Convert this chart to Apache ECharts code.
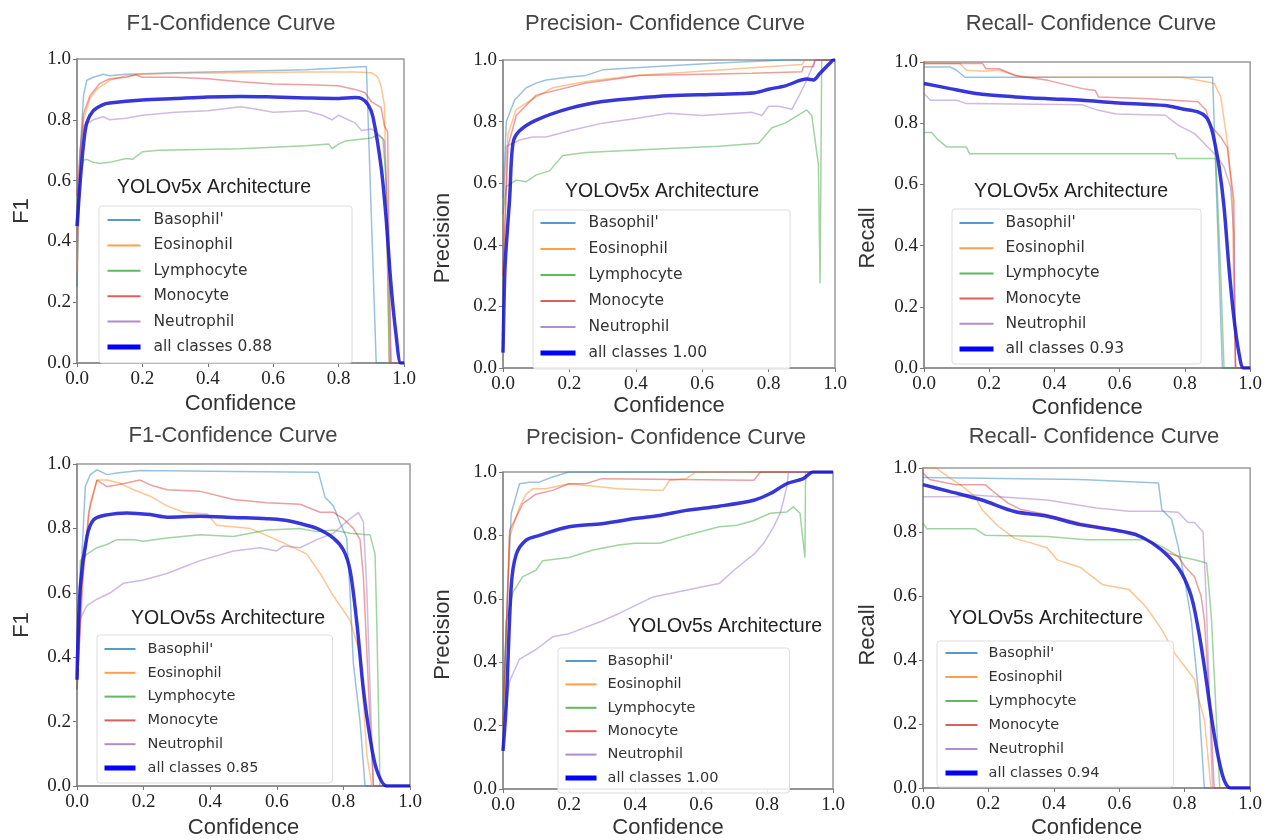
<!DOCTYPE html>
<html>
<head>
<meta charset="utf-8">
<script src="https://cdn.jsdelivr.net/npm/echarts@6/dist/echarts.min.js"></script>
<style>
html,body{margin:0;padding:0;background:#fff;}
#chart{width:1265px;height:840px;}
</style>
</head>
<body>
<div id="chart"></div>
<script>
// ---------------- data ----------------
const CLASS_NAMES = ["Basophil'", 'Eosinophil', 'Lymphocyte', 'Monocyte', 'Neutrophil'];
const ALL_LABELS = ['all classes 0.88', 'all classes 1.00', 'all classes 0.93', 'all classes 0.85', 'all classes 1.00', 'all classes 0.94'];
const TITLES = ['F1-Confidence Curve', 'Precision- Confidence Curve', 'Recall- Confidence Curve', 'F1-Confidence Curve', 'Precision- Confidence Curve', 'Recall- Confidence Curve'];
const Y_NAMES = ['F1', 'Precision', 'Recall', 'F1', 'Precision', 'Recall'];
const X_NAME = 'Confidence';
const ARCH = ['YOLOv5x Architecture', 'YOLOv5x Architecture', 'YOLOv5x Architecture', 'YOLOv5s Architecture', 'YOLOv5s Architecture', 'YOLOv5s Architecture'];
const TICKS = [0, 0.2, 0.4, 0.6, 0.8, 1.0];

// Panel 1: F1 - YOLOv5x
const F1X_BASO = [[0,0.25],[0.01,0.7],[0.02,0.88],[0.03,0.93],[0.05,0.94],[0.08,0.95],[0.1,0.945],[0.15,0.95],[0.3,0.955],[0.5,0.96],[0.7,0.965],[0.885,0.975],[0.915,0],[1,0]];
const F1X_EOS = [[0,0.3],[0.01,0.65],[0.02,0.8],[0.04,0.87],[0.06,0.9],[0.1,0.93],[0.15,0.945],[0.2,0.95],[0.3,0.953],[0.5,0.955],[0.7,0.957],[0.85,0.957],[0.9,0.955],[0.92,0.94],[0.93,0.91],[0.94,0.85],[0.945,0.6],[0.955,0],[1,0]];
const F1X_LYM = [[0,0.45],[0.01,0.62],[0.02,0.667],[0.03,0.67],[0.05,0.66],[0.07,0.656],[0.1,0.66],[0.15,0.673],[0.17,0.67],[0.2,0.695],[0.25,0.7],[0.5,0.705],[0.7,0.715],[0.77,0.72],[0.78,0.705],[0.8,0.72],[0.82,0.73],[0.9,0.74],[0.92,0.75],[0.935,0.74],[0.945,0.6],[0.955,0],[1,0]];
const F1X_MONO = [[0,0.55],[0.01,0.7],[0.02,0.82],[0.04,0.88],[0.07,0.92],[0.1,0.935],[0.15,0.94],[0.18,0.948],[0.2,0.94],[0.3,0.94],[0.4,0.935],[0.5,0.925],[0.6,0.918],[0.7,0.915],[0.8,0.912],[0.85,0.9],[0.88,0.89],[0.9,0.86],[0.93,0.84],[0.94,0.78],[0.95,0.76],[0.955,0.3],[0.96,0],[1,0]];
const F1X_NEU = [[0,0.4],[0.01,0.7],[0.02,0.78],[0.05,0.8],[0.08,0.81],[0.1,0.8],[0.15,0.805],[0.2,0.815],[0.3,0.825],[0.4,0.83],[0.5,0.843],[0.55,0.835],[0.6,0.825],[0.7,0.83],[0.75,0.815],[0.78,0.8],[0.8,0.815],[0.85,0.79],[0.87,0.765],[0.9,0.77],[0.92,0.755],[0.94,0.73],[0.95,0.5],[0.96,0],[1,0]];
const F1X_ALL = [[0,0.45],[0.01,0.6],[0.02,0.72],[0.03,0.79],[0.05,0.83],[0.08,0.85],[0.1,0.855],[0.2,0.865],[0.3,0.87],[0.4,0.875],[0.5,0.877],[0.6,0.875],[0.7,0.872],[0.8,0.87],[0.85,0.873],[0.87,0.87],[0.89,0.85],[0.905,0.81],[0.93,0.645],[0.945,0.48],[0.96,0.26],[0.975,0.1],[0.99,0],[1,0]];

// Panel 2: Precision - YOLOv5x
const PRX_BASO = [[0,0.55],[0.01,0.8],[0.035,0.87],[0.07,0.91],[0.1,0.925],[0.13,0.935],[0.2,0.945],[0.25,0.95],[0.3,0.968],[0.45,0.978],[0.65,0.99],[0.85,1.0],[1,1.0]];
const PRX_EOS = [[0,0.3],[0.015,0.76],[0.04,0.84],[0.1,0.88],[0.15,0.91],[0.25,0.93],[0.4,0.95],[0.55,0.96],[0.75,0.975],[0.9,0.985],[0.91,1.0],[1,1.0]];
const PRX_LYM = [[0,0.5],[0.01,0.59],[0.04,0.61],[0.07,0.605],[0.1,0.627],[0.14,0.64],[0.18,0.69],[0.25,0.7],[0.45,0.71],[0.65,0.72],[0.77,0.73],[0.81,0.78],[0.85,0.795],[0.915,0.838],[0.93,0.82],[0.94,0.74],[0.95,0.66],[0.955,0.275],[0.96,1.0],[1,1.0]];
const PRX_MONO = [[0,0.3],[0.015,0.72],[0.04,0.82],[0.1,0.886],[0.25,0.925],[0.35,0.94],[0.41,0.95],[0.75,0.957],[0.9,0.962],[0.905,0.978],[0.935,0.978],[0.94,1.0],[1,1.0]];
const PRX_NEU = [[0,0.5],[0.01,0.72],[0.05,0.74],[0.09,0.75],[0.13,0.75],[0.2,0.77],[0.3,0.795],[0.4,0.81],[0.5,0.827],[0.6,0.82],[0.75,0.83],[0.78,0.82],[0.8,0.85],[0.83,0.85],[0.87,0.84],[0.89,0.88],[0.895,0.885],[0.915,0.935],[0.94,1.0],[1,1.0]];
const PRX_ALL = [[0,0.05],[0.005,0.3],[0.01,0.4],[0.02,0.55],[0.03,0.73],[0.05,0.77],[0.1,0.805],[0.2,0.843],[0.3,0.865],[0.4,0.876],[0.5,0.884],[0.65,0.889],[0.76,0.894],[0.8,0.905],[0.85,0.916],[0.915,0.938],[0.935,0.935],[0.955,0.957],[0.985,0.99],[0.995,1.0],[1,1.0]];

// Panel 3: Recall - YOLOv5x
const REX_BASO = [[0,0.984],[0.08,0.984],[0.1,0.973],[0.125,0.95],[0.5,0.95],[0.885,0.95],[0.915,0],[1,0]];
const REX_EOS = [[0,0.995],[0.11,0.995],[0.13,0.973],[0.18,0.97],[0.23,0.973],[0.3,0.95],[0.79,0.95],[0.87,0.935],[0.89,0.93],[0.91,0.886],[0.93,0.74],[0.946,0.55],[0.95,0.22],[0.956,0],[1,0]];
const REX_LYM = [[0,0.77],[0.023,0.77],[0.04,0.749],[0.07,0.722],[0.13,0.722],[0.14,0.7],[0.77,0.7],[0.775,0.685],[0.895,0.685],[0.91,0.3],[0.92,0],[1,0]];
const REX_MONO = [[0,0.995],[0.18,0.995],[0.19,0.978],[0.23,0.978],[0.28,0.956],[0.38,0.94],[0.485,0.913],[0.525,0.907],[0.535,0.886],[0.69,0.88],[0.84,0.87],[0.865,0.842],[0.88,0.79],[0.91,0.755],[0.93,0.72],[0.94,0.635],[0.95,0.55],[0.955,0],[1,0]];
const REX_NEU = [[0,0.897],[0.02,0.875],[0.1,0.875],[0.13,0.864],[0.485,0.86],[0.535,0.842],[0.59,0.83],[0.74,0.826],[0.78,0.793],[0.83,0.766],[0.87,0.722],[0.9,0.69],[0.92,0.657],[0.94,0.59],[0.95,0.44],[0.955,0],[1,0]];
const REX_ALL = [[0,0.93],[0.08,0.913],[0.16,0.897],[0.28,0.886],[0.38,0.88],[0.485,0.875],[0.585,0.867],[0.74,0.858],[0.79,0.847],[0.84,0.837],[0.865,0.82],[0.88,0.787],[0.89,0.744],[0.905,0.657],[0.92,0.526],[0.935,0.33],[0.95,0.167],[0.966,0.047],[0.98,0],[1,0]];

// Panel 4: F1 - YOLOv5s
const F1S_BASO = [[0,0.3],[0.01,0.62],[0.025,0.93],[0.04,0.967],[0.06,0.982],[0.09,0.967],[0.12,0.972],[0.19,0.98],[0.47,0.977],[0.725,0.974],[0.745,0.897],[0.77,0.87],[0.79,0.817],[0.81,0.77],[0.82,0.6],[0.83,0.38],[0.85,0.2],[0.865,0],[1,0]];
const F1S_EOS = [[0,0.3],[0.02,0.67],[0.04,0.88],[0.06,0.95],[0.09,0.95],[0.13,0.94],[0.17,0.92],[0.22,0.9],[0.27,0.87],[0.32,0.85],[0.39,0.845],[0.42,0.81],[0.52,0.8],[0.62,0.755],[0.69,0.72],[0.73,0.66],[0.77,0.59],[0.82,0.515],[0.85,0.41],[0.86,0.26],[0.87,0.1],[0.885,0],[1,0]];
const F1S_LYM = [[0,0.3],[0.01,0.7],[0.03,0.72],[0.06,0.74],[0.09,0.75],[0.12,0.765],[0.17,0.765],[0.2,0.76],[0.27,0.77],[0.37,0.78],[0.47,0.775],[0.57,0.795],[0.67,0.8],[0.72,0.79],[0.77,0.795],[0.82,0.785],[0.87,0.78],[0.88,0.78],[0.895,0.72],[0.9,0.52],[0.91,0],[1,0]];
const F1S_MONO = [[0,0.3],[0.015,0.62],[0.035,0.85],[0.06,0.95],[0.09,0.93],[0.12,0.935],[0.19,0.95],[0.22,0.935],[0.27,0.92],[0.37,0.915],[0.47,0.89],[0.57,0.88],[0.67,0.875],[0.73,0.85],[0.77,0.85],[0.8,0.83],[0.83,0.8],[0.85,0.765],[0.86,0.65],[0.88,0.2],[0.89,0],[1,0]];
const F1S_NEU = [[0,0.3],[0.01,0.52],[0.03,0.56],[0.06,0.58],[0.1,0.6],[0.14,0.63],[0.2,0.64],[0.27,0.66],[0.32,0.68],[0.37,0.7],[0.47,0.73],[0.55,0.74],[0.6,0.73],[0.62,0.745],[0.67,0.74],[0.72,0.765],[0.77,0.785],[0.82,0.83],[0.845,0.85],[0.86,0.82],[0.87,0.62],[0.88,0.31],[0.89,0],[1,0]];
const F1S_ALL = [[0,0.33],[0.01,0.62],[0.03,0.775],[0.05,0.827],[0.09,0.842],[0.15,0.848],[0.22,0.843],[0.27,0.835],[0.37,0.838],[0.47,0.834],[0.57,0.83],[0.62,0.826],[0.67,0.815],[0.72,0.8],[0.77,0.77],[0.8,0.733],[0.82,0.67],[0.84,0.51],[0.86,0.3],[0.88,0.15],[0.9,0.05],[0.93,0],[1,0]];

// Panel 5: Precision - YOLOv5s
const PRS_BASO = [[0,0.25],[0.015,0.64],[0.025,0.87],[0.05,0.963],[0.08,0.968],[0.11,0.968],[0.15,0.984],[0.2,1.0],[1,1.0]];
const PRS_EOS = [[0,0.2],[0.02,0.795],[0.05,0.89],[0.07,0.93],[0.09,0.947],[0.13,0.947],[0.2,0.963],[0.35,0.947],[0.485,0.942],[0.505,0.974],[0.555,0.979],[0.585,1.0],[1,1.0]];
const PRS_LYM = [[0,0.2],[0.01,0.53],[0.03,0.62],[0.06,0.67],[0.1,0.69],[0.12,0.72],[0.2,0.73],[0.27,0.753],[0.35,0.77],[0.4,0.775],[0.475,0.775],[0.555,0.8],[0.655,0.827],[0.71,0.832],[0.76,0.847],[0.81,0.87],[0.86,0.874],[0.88,0.89],[0.9,0.87],[0.915,0.73],[0.917,1.0],[1,1.0]];
const PRS_MONO = [[0,0.2],[0.02,0.816],[0.06,0.9],[0.1,0.93],[0.15,0.942],[0.2,0.963],[0.25,0.963],[0.3,0.979],[0.76,0.974],[0.78,1.0],[1,1.0]];
const PRS_NEU = [[0,0.2],[0.02,0.34],[0.05,0.41],[0.1,0.44],[0.15,0.48],[0.2,0.49],[0.25,0.51],[0.3,0.53],[0.35,0.553],[0.455,0.606],[0.555,0.627],[0.605,0.638],[0.655,0.648],[0.7,0.69],[0.735,0.72],[0.76,0.74],[0.79,0.775],[0.82,0.827],[0.84,0.87],[0.85,0.91],[0.86,0.953],[0.865,1.0],[1,1.0]];
const PRS_ALL = [[0,0.12],[0.01,0.27],[0.025,0.64],[0.04,0.74],[0.07,0.785],[0.11,0.8],[0.2,0.827],[0.3,0.837],[0.4,0.853],[0.475,0.863],[0.555,0.879],[0.655,0.892],[0.76,0.911],[0.81,0.932],[0.86,0.963],[0.91,0.979],[0.94,1.0],[1,1.0]];

// Panel 6: Recall - YOLOv5s
const RES_BASO = [[0,0.97],[0.48,0.964],[0.72,0.953],[0.73,0.87],[0.76,0.84],[0.78,0.755],[0.8,0.65],[0.82,0.526],[0.84,0.32],[0.86,0],[1,0]];
const RES_EOS = [[0,1.0],[0.04,1.0],[0.08,0.97],[0.12,0.943],[0.16,0.91],[0.18,0.87],[0.23,0.818],[0.28,0.78],[0.33,0.766],[0.38,0.75],[0.41,0.713],[0.48,0.69],[0.55,0.635],[0.63,0.62],[0.68,0.568],[0.73,0.495],[0.77,0.42],[0.83,0.34],[0.84,0.287],[0.86,0.214],[0.87,0.11],[0.88,0],[1,0]];
const RES_LYM = [[0,0.828],[0.012,0.81],[0.16,0.81],[0.19,0.79],[0.38,0.786],[0.5,0.776],[0.68,0.776],[0.73,0.755],[0.78,0.724],[0.83,0.713],[0.867,0.703],[0.872,0.65],[0.882,0.526],[0.892,0.318],[0.907,0],[1,0]];
const RES_MONO = [[0,0.984],[0.02,0.964],[0.1,0.948],[0.19,0.948],[0.22,0.922],[0.26,0.89],[0.3,0.87],[0.38,0.854],[0.48,0.828],[0.58,0.81],[0.65,0.797],[0.7,0.766],[0.75,0.734],[0.78,0.724],[0.8,0.693],[0.83,0.66],[0.85,0.6],[0.86,0.526],[0.87,0.37],[0.88,0.214],[0.89,0],[1,0]];
const RES_NEU = [[0,0.91],[0.11,0.91],[0.13,0.917],[0.38,0.9],[0.53,0.875],[0.63,0.865],[0.73,0.865],[0.78,0.862],[0.81,0.83],[0.83,0.83],[0.856,0.8],[0.865,0.61],[0.875,0.3],[0.885,0],[1,0]];
const RES_ALL = [[0,0.948],[0.08,0.927],[0.18,0.9],[0.28,0.864],[0.38,0.849],[0.48,0.823],[0.58,0.807],[0.65,0.792],[0.7,0.766],[0.75,0.724],[0.79,0.672],[0.82,0.599],[0.84,0.505],[0.86,0.38],[0.88,0.234],[0.9,0.11],[0.92,0.026],[0.94,0],[1,0]];

const PANEL_DATA = [
  [F1X_BASO, F1X_EOS, F1X_LYM, F1X_MONO, F1X_NEU, F1X_ALL],
  [PRX_BASO, PRX_EOS, PRX_LYM, PRX_MONO, PRX_NEU, PRX_ALL],
  [REX_BASO, REX_EOS, REX_LYM, REX_MONO, REX_NEU, REX_ALL],
  [F1S_BASO, F1S_EOS, F1S_LYM, F1S_MONO, F1S_NEU, F1S_ALL],
  [PRS_BASO, PRS_EOS, PRS_LYM, PRS_MONO, PRS_NEU, PRS_ALL],
  [RES_BASO, RES_EOS, RES_LYM, RES_MONO, RES_NEU, RES_ALL]
];

// ---------------- layout & style ----------------
const CLASS_COLORS = ['#1f77b4', '#ff7f0e', '#2ca02c', '#d62728', '#9467bd'];
const ALL_COLOR = '#0000ff';
const ALL_PLOT_COLOR = '#1414d2';

const GRIDS = [
  {left: 77, top: 59, width: 327, height: 304},
  {left: 503, top: 60, width: 332, height: 308},
  {left: 924, top: 62, width: 329, height: 306},
  {left: 77, top: 464, width: 333, height: 322},
  {left: 503, top: 472, width: 330, height: 317},
  {left: 923, top: 468, width: 333, height: 320}
];
const XNAME_GAP = [30, 27, 29, 31, 28, 29];
const YNAME_GAP = [44, 49, 45, 44, 49, 44];
const YNAME_SHIFT = [0, 48, 46, 0, 8, 14];
const TITLE_POS = [[231, 24], [665, 24], [1091, 24], [233, 436], [666, 438], [1094, 437]];
const ARCH_POS = [[214, 188], [662, 192], [1071, 192], [228, 619], [725, 627], [1046, 619]];
const LEGENDS = [
  {left: 99, top: 206, itemWidth: 33, itemHeight: 14, itemGap: 9.4, padding: [6, 80, 8, 6], fontSize: 15.5, textPad: 8},
  {left: 533, top: 210, itemWidth: 35, itemHeight: 14, itemGap: 10, padding: [5, 83, 8, 5], fontSize: 15.5, textPad: 8},
  {left: 952, top: 209, itemWidth: 34, itemHeight: 14, itemGap: 9.2, padding: [6, 77, 7, 5], fontSize: 15.5, textPad: 7},
  {left: 97, top: 635, itemWidth: 31, itemHeight: 13, itemGap: 8.8, padding: [6.5, 74, 7.5, 5], fontSize: 14.5, textPad: 7},
  {left: 558, top: 648, itemWidth: 31, itemHeight: 13, itemGap: 8.4, padding: [5.5, 71, 7.5, 5], fontSize: 14.5, textPad: 6},
  {left: 937, top: 641, itemWidth: 32, itemHeight: 13, itemGap: 9, padding: [4.5, 74, 6.5, 6], fontSize: 14.5, textPad: 6}
];

const SANS = 'Liberation Sans, Arial, sans-serif';
const SERIF = 'Liberation Serif, Times New Roman, serif';

const option = {
  backgroundColor: '#ffffff',
  animation: false,
  grid: [], xAxis: [], yAxis: [], series: [], legend: [], graphic: []
};

GRIDS.forEach((g, i) => {
  option.grid.push(Object.assign({show: true, borderColor: '#9a9a9a', borderWidth: 1.5, backgroundColor: 'rgba(0,0,0,0)'}, g));
  const axisCommon = {
    type: 'value', min: 0, max: 1, interval: 0.2, gridIndex: i,
    axisLine: {show: true, lineStyle: {color: '#8a8a8a', width: 1.5}},
    axisTick: {show: true, length: 4, lineStyle: {color: '#777'}},
    splitLine: {show: false},
    axisLabel: {fontFamily: SERIF, fontSize: 19, color: '#222', formatter: v => v.toFixed(1)},
    nameLocation: 'middle',
    nameTextStyle: {fontFamily: SANS, fontSize: 22, color: '#333'}
  };
  option.xAxis.push(Object.assign({}, axisCommon, {
    name: X_NAME, nameGap: XNAME_GAP[i],
    axisLabel: Object.assign({}, axisCommon.axisLabel, {margin: 7})
  }));
  option.yAxis.push(Object.assign({}, axisCommon, {
    name: Y_NAMES[i], nameGap: YNAME_GAP[i],
    nameTextStyle: Object.assign({}, axisCommon.nameTextStyle, {padding: [0, YNAME_SHIFT[i], 0, 0]}),
    axisLabel: Object.assign({}, axisCommon.axisLabel, {margin: 6})
  }));

  const names = CLASS_NAMES.concat([ALL_LABELS[i]]);
  PANEL_DATA[i].forEach((data, k) => {
    const isAll = k === 5;
    option.series.push({
      type: 'line', name: names[k], xAxisIndex: i, yAxisIndex: i,
      data: data, symbol: 'none', showSymbol: false,
      smooth: isAll ? 0.3 : false,
      z: isAll ? 4 : 2,
      color: isAll ? ALL_COLOR : CLASS_COLORS[k],
      lineStyle: {width: isAll ? 3.5 : 1.5, color: isAll ? ALL_PLOT_COLOR : CLASS_COLORS[k], opacity: isAll ? 0.85 : 0.45}
    });
  });

  const L = LEGENDS[i];
  option.legend.push({
    data: names.map((n, k) => ({name: n, lineStyle: {width: k === 5 ? 5 : 2, opacity: k === 5 ? 1 : 0.75, color: k === 5 ? ALL_COLOR : CLASS_COLORS[k]}})),
    orient: 'vertical', left: L.left, top: L.top,
    itemWidth: L.itemWidth, itemHeight: L.itemHeight, itemGap: L.itemGap, padding: L.padding,
    backgroundColor: 'rgba(255,255,255,0.85)', borderColor: '#dddddd', borderWidth: 1, borderRadius: 3,
    selectedMode: false,
    itemStyle: {opacity: 0, borderWidth: 0},
    textStyle: {fontFamily: 'DejaVu Sans, sans-serif', fontSize: L.fontSize, color: '#333', padding: [0, 0, 0, L.textPad]}
  });

  option.graphic.push({
    type: 'text', x: TITLE_POS[i][0], y: TITLE_POS[i][1], silent: true,
    style: {text: TITLES[i], fontFamily: SANS, fontSize: 22, fill: '#444', align: 'center', verticalAlign: 'middle'}
  });
  option.graphic.push({
    type: 'text', x: ARCH_POS[i][0], y: ARCH_POS[i][1], silent: true, z: 10,
    style: {text: ARCH[i], fontFamily: SANS, fontSize: 19.5, fill: '#222', align: 'center', verticalAlign: 'middle'}
  });
});

const chart = echarts.init(document.getElementById('chart'), null, {renderer: 'canvas'});
chart.setOption(option);
</script>
</body>
</html>
